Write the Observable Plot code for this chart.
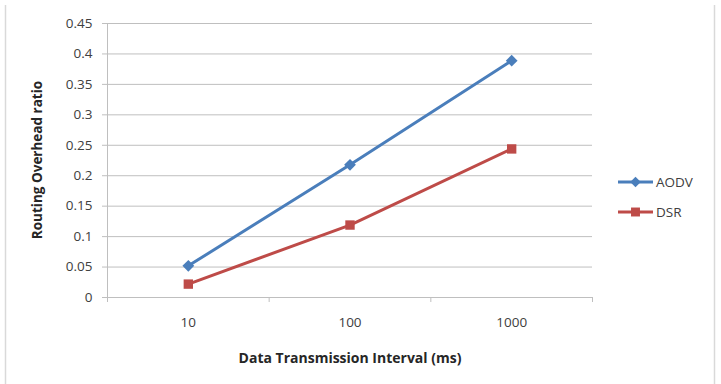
<!DOCTYPE html>
<html>
<head>
<meta charset="utf-8">
<script src="https://cdn.jsdelivr.net/npm/d3@7"></script>
<script src="https://cdn.jsdelivr.net/npm/@observablehq/plot@0.6"></script>
<style>
  html, body { margin: 0; padding: 0; background: #fff; }
  #chart { position: relative; width: 721px; height: 384px; }
  svg { font-family: "Open Sans", sans-serif; }
</style>
</head>
<body>
<div id="chart"></div>
<script>
// Routing overhead ratio by data transmission interval
const intervals = ["10", "100", "1000"];
const aodv = [0.052, 0.218, 0.389];
const dsr = [0.022, 0.119, 0.244];
const yTicks = [0, 0.05, 0.1, 0.15, 0.2, 0.25, 0.3, 0.35, 0.4, 0.45];
const seriesNames = ["AODV", "DSR"];
const seriesColors = ["#4A7EBB", "#BE4B48"];
const seriesSymbols = ["diamond2", "square"];

const rows = [
  ...aodv.map((v, i) => ({series: "AODV", i, value: v})),
  ...dsr.map((v, i) => ({series: "DSR", i, value: v}))
];
// category boundaries, where the x-axis tick marks sit
const bounds = d3.range(intervals.length + 1).map(i => i - 0.5);

const W = 721, H = 384;
const grid = "#BFBFBF";
const labelSize = 13.5;

const plot = Plot.plot({
  width: W,
  height: H,
  marginLeft: 107,
  marginRight: 129,
  marginTop: 23,
  marginBottom: 87,
  x: {type: "linear", domain: [-0.5, intervals.length - 0.5]},
  y: {domain: [0, 0.45]},
  color: {domain: seriesNames, range: seriesColors},
  symbol: {domain: seriesNames, range: seriesSymbols},
  style: {fontFamily: "Open Sans, sans-serif", fontSize: "13px", color: "#404040"},
  marks: [
    Plot.ruleY(yTicks, {stroke: grid, strokeWidth: 1, strokeOpacity: 1}),
    Plot.ruleX([-0.5], {y1: 0, y2: 0.45, stroke: grid, strokeWidth: 1}),
    Plot.axisY({
      ticks: yTicks, tickSize: 5, tickPadding: 10, stroke: grid,
      tickFormat: d => String(+d.toFixed(2)), label: null, fill: "#404040", fontSize: labelSize
    }),
    Plot.axisX({
      ticks: bounds, tickSize: 5, text: null, stroke: grid, label: null
    }),
    Plot.axisX({
      ticks: d3.range(intervals.length), tickSize: 0, tickPadding: 20,
      tickFormat: i => intervals[i], label: null, fill: "#404040", fontSize: labelSize
    }),
    Plot.line(rows, {x: "i", y: "value", z: "series", stroke: "series", strokeWidth: 3, strokeLinecap: "butt"}),
    Plot.dot(rows, {x: "i", y: "value", symbol: "series", fill: "series", stroke: "none", r: 5.3})
  ]
});

const root = d3.select("#chart");
root.node().appendChild(plot);
const svg = d3.select(plot);

// chart frame edges
svg.insert("line", ":first-child").attr("x1", 5.5).attr("x2", 5.5).attr("y1", 5).attr("y2", H)
  .attr("stroke", "#D9D9D9").attr("stroke-width", 1.5);
svg.insert("line", ":first-child").attr("x1", 714.5).attr("x2", 714.5).attr("y1", 5).attr("y2", H)
  .attr("stroke", "#D9D9D9").attr("stroke-width", 1.5);

// axis titles
svg.append("text").attr("x", 350).attr("y", 363).attr("text-anchor", "middle")
  .attr("font-weight", "bold").attr("font-size", 14).attr("fill", "#262626")
  .text("Data Transmission Interval (ms)");
svg.append("text").attr("transform", "translate(42,160) rotate(-90)").attr("text-anchor", "middle")
  .attr("font-weight", "bold").attr("font-size", 13.5).attr("fill", "#262626")
  .text("Routing Overhead ratio");

// legend
const symGen = {diamond2: d3.symbolDiamond2, square: d3.symbolSquare};
seriesNames.forEach((name, k) => {
  const gy = 182 + k * 30;
  const g = svg.append("g").attr("transform", `translate(618,${gy})`);
  g.append("line").attr("x1", 0).attr("x2", 35).attr("stroke", seriesColors[k]).attr("stroke-width", 3);
  g.append("path").attr("transform", "translate(17.5,0)")
    .attr("d", d3.symbol(symGen[seriesSymbols[k]], k === 0 ? 70 : 80)())
    .attr("fill", seriesColors[k]);
  g.append("text").attr("x", 38).attr("y", 0).attr("dy", "0.35em").attr("text-anchor", "start")
    .attr("font-size", labelSize).attr("fill", "#404040").text(name);
});
</script>
</body>
</html>
